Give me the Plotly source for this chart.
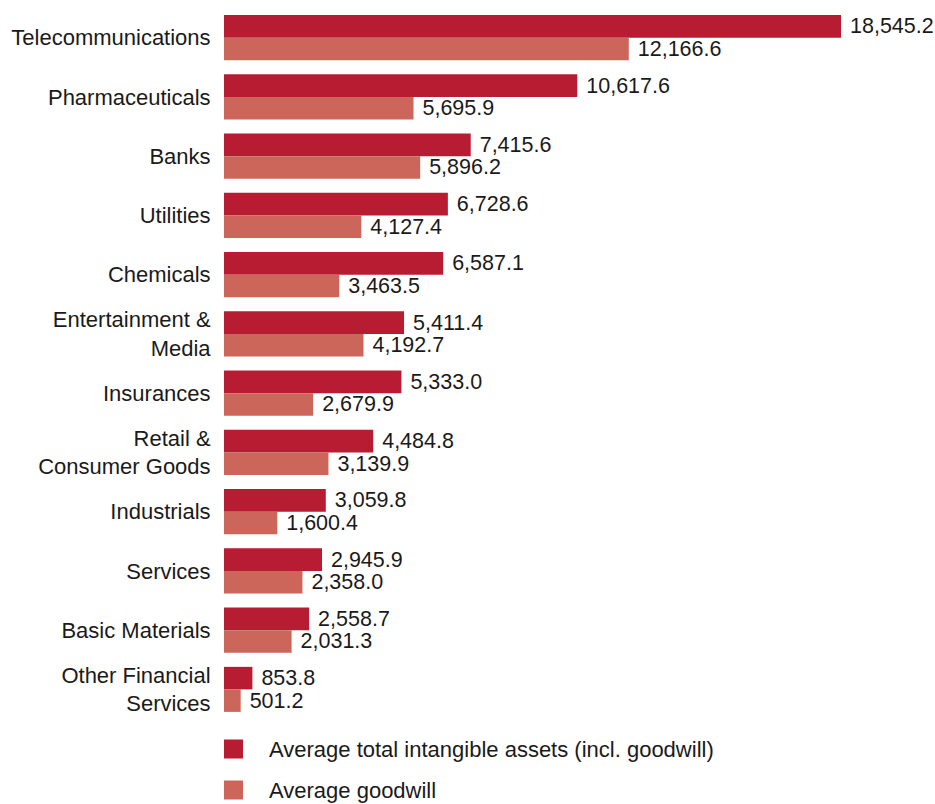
import plotly.graph_objects as go

# Sector averages (in millions)
sectors = [
    "Telecommunications",
    "Pharmaceuticals",
    "Banks",
    "Utilities",
    "Chemicals",
    "Entertainment &<br>Media",
    "Insurances",
    "Retail &<br>Consumer Goods",
    "Industrials",
    "Services",
    "Basic Materials",
    "Other Financial<br>Services",
]
total_intangibles = [18545.2, 10617.6, 7415.6, 6728.6, 6587.1, 5411.4,
                     5333.0, 4484.8, 3059.8, 2945.9, 2558.7, 853.8]
goodwill = [12166.6, 5695.9, 5896.2, 4127.4, 3463.5, 4192.7,
            2679.9, 3139.9, 1600.4, 2358.0, 2031.3, 501.2]

series_names = ["Average total intangible assets (incl. goodwill)", "Average goodwill"]
DARK_RED = "#B71C32"
SALMON = "#CC665B"
TEXT = "#1a1a1a"
FONT = "Liberation Sans, Arial, sans-serif"

W, H = 935, 804
M_L, M_R, M_T, M_B = 224, 0, 8, 85
PLOT_W = W - M_L - M_R
PLOT_H = H - M_T - M_B

fig = go.Figure()
for name, vals, col in [
    (series_names[0], total_intangibles, DARK_RED),
    (series_names[1], goodwill, SALMON),
]:
    fig.add_trace(go.Bar(
        y=sectors, x=vals, orientation="h", name=name,
        marker=dict(color=col, line=dict(width=0)),
        text=vals, texttemplate="\u00a0%{x:,.1f}", textposition="outside",
        textfont=dict(size=21.5, color=TEXT, family=FONT),
        constraintext="none", cliponaxis=False, showlegend=False,
    ))

# Legend below the bars: square key + label per series
KEY = 19          # key square size, px
ROW_STEP = 41     # vertical distance between legend rows, px
first_row_center = 749  # px from top of the page
for i, (name, col) in enumerate(zip(series_names, [DARK_RED, SALMON])):
    cy = first_row_center + i * ROW_STEP
    y_top = (H - M_B - (cy - KEY / 2)) / PLOT_H
    y_bot = (H - M_B - (cy + KEY / 2)) / PLOT_H
    fig.add_shape(
        type="rect", xref="paper", yref="paper",
        x0=0, x1=KEY / PLOT_W, y0=y_bot, y1=y_top,
        fillcolor=col, line=dict(width=0), layer="above",
    )
    fig.add_annotation(
        xref="paper", yref="paper", x=(267 - M_L) / PLOT_W,
        y=(H - M_B - cy) / PLOT_H, xanchor="left", yanchor="middle",
        text=name, showarrow=False,
        font=dict(size=22, color=TEXT, family=FONT),
    )

fig.update_layout(
    width=W, height=H,
    margin=dict(l=M_L, r=M_R, t=M_T, b=M_B),
    paper_bgcolor="white", plot_bgcolor="white",
    barmode="group", bargap=0.24, bargroupgap=0,
    font=dict(family=FONT, size=22, color=TEXT),
    showlegend=False,
)
fig.update_xaxes(range=[0, 21370], visible=False, showgrid=False, zeroline=False)
fig.update_yaxes(
    autorange="reversed", showgrid=False, zeroline=False, showline=False,
    ticks="outside", ticklen=8, tickcolor="rgba(0,0,0,0)",
    tickfont=dict(size=22, color=TEXT, family=FONT),
)

fig.write_html("out.html")
